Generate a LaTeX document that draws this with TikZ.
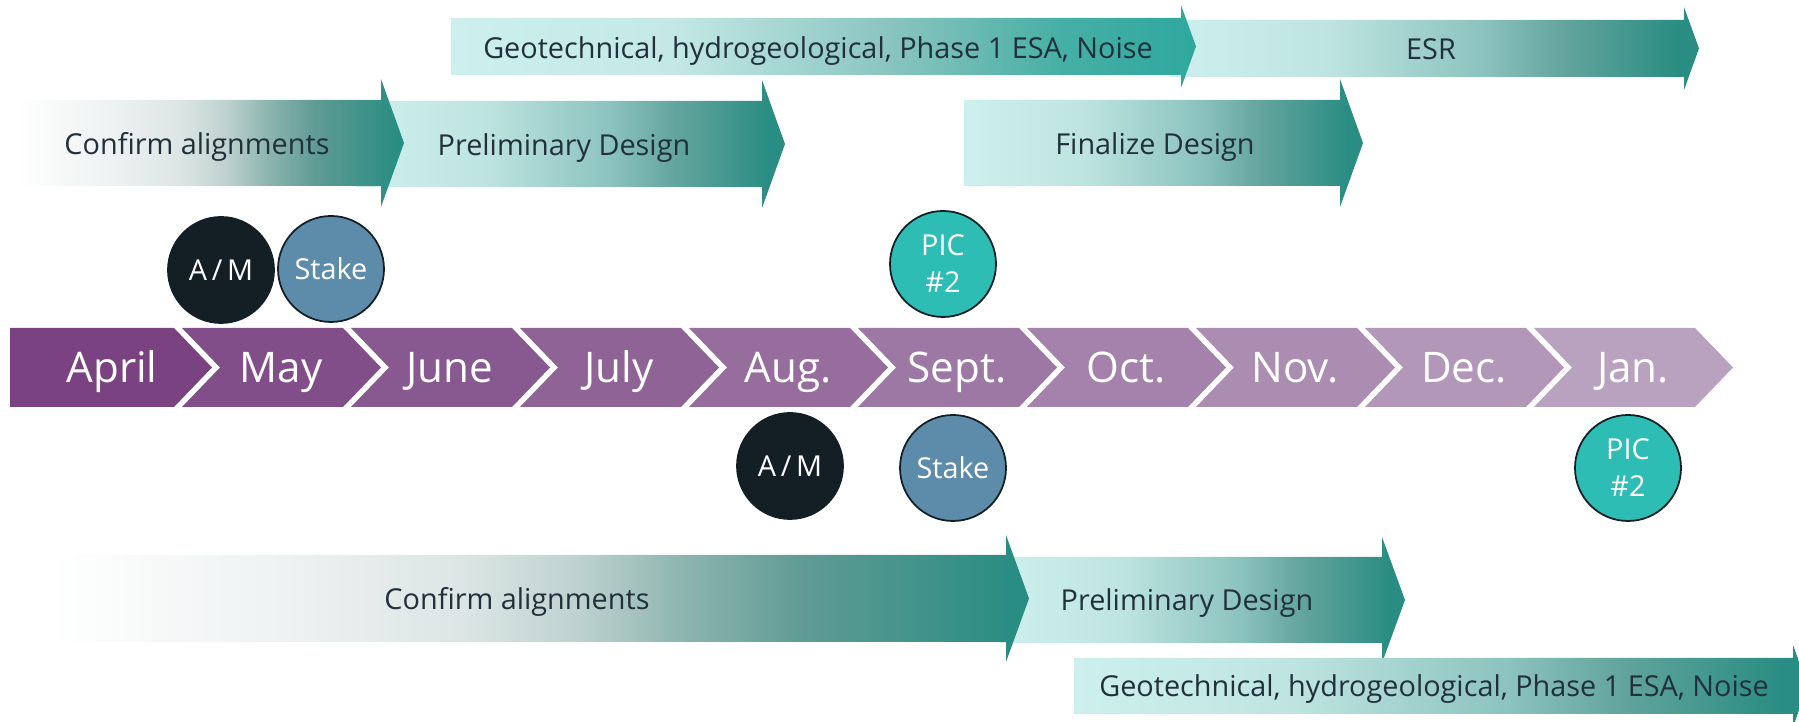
\documentclass[tikz,border=0pt]{standalone}
\usepackage{fontspec}
\setmainfont{Open Sans}
\usepackage{xcolor}
\usepackage{tikz}
\usetikzlibrary{calc}

\definecolor{tealdark}{HTML}{2A8D83}
\definecolor{tealbright}{HTML}{2EA89E}
\definecolor{tealpale}{HTML}{CDF0EE}
\definecolor{inktext}{HTML}{22303B}
\definecolor{amfill}{HTML}{141F25}
\definecolor{stakefill}{HTML}{5D8CAB}
\definecolor{picfill}{HTML}{2EBDB4}
\definecolor{monthdark}{HTML}{7A4281}
\definecolor{monthlight}{HTML}{B9A2C0}

% colour ramps for the phase arrows
\pgfdeclarehorizontalshading{confirmfade}{100bp}{%
  color(0bp)=(white); color(25bp)=(white);
  rgb(37bp)=(0.933,0.949,0.949); rgb(46bp)=(0.863,0.902,0.894);
  rgb(52bp)=(0.745,0.824,0.812); rgb(57.5bp)=(0.549,0.706,0.686);
  rgb(63.5bp)=(0.373,0.608,0.580); color(74bp)=(tealdark); color(100bp)=(tealdark)}
\pgfdeclarehorizontalshading{phasefade}{100bp}{%
  color(0bp)=(tealpale); color(25bp)=(tealpale);
  rgb(40bp)=(0.745,0.894,0.882); rgb(54.5bp)=(0.549,0.765,0.745);
  rgb(62bp)=(0.392,0.647,0.620); color(73bp)=(tealdark); color(100bp)=(tealdark)}
\pgfdeclarehorizontalshading{geofade}{100bp}{%
  color(0bp)=(tealpale); color(25bp)=(tealpale);
  rgb(40bp)=(0.765,0.910,0.898); rgb(55bp)=(0.529,0.765,0.745);
  rgb(66bp)=(0.275,0.686,0.647); color(75bp)=(tealbright); color(100bp)=(tealbright)}

\tikzset{
  phasetext/.style={anchor=base, text=inktext, font=\fontsize{8.2}{10}\selectfont},
  monthtext/.style={anchor=base, text=white, font=\fontsize{12}{14}\selectfont},
  milestone/.style={circle, draw=amfill, line width=0.5pt, minimum size=10.6mm,
    inner sep=0pt, text=white, align=center, font=\fontsize{8.2}{10.5}\selectfont},
}

% [shading] {x left}{x head}{y top}{y bottom}{overhang}{tip}
\newcommand{\phasearrow}[7][]{%
  \shade[#1] (#2,#4) -- (#3,#4) -- (#3,#4-#6) -- (#3+#7,#4/2+#5/2)
    -- (#3,#5+#6) -- (#3,#5) -- (#2,#5) -- cycle;}

\begin{document}
\begin{tikzpicture}[x=0.1mm, y=-0.1mm]
    \path[use as bounding box] (0,0) rectangle (1799,722);
    \clip (0,0) rectangle (1799,722);

    % top rows
    \phasearrow[shading=phasefade]{1170}{1684}{20}{77}{13}{15}
    \phasearrow[shading=geofade]{451}{1181}{18}{75}{13}{15}
    \phasearrow[shading=phasefade]{356}{762}{101}{187}{21}{23}
    \phasearrow[shading=confirmfade]{17}{381}{100}{186}{21}{23}
    \phasearrow[shading=phasefade]{964}{1340}{100}{186}{21}{23}

    \node[phasetext] (geoTop) at (818,59) {Geotechnical, hydrogeological, Phase 1 ESA, Noise};
    \node[phasetext] (esr) at (1431,60) {ESR};
    \node[phasetext] (confirmTop) at (197,155) {Confirm alignments};
    \node[phasetext] (prelimTop) at (564,156) {Preliminary Design};
    \node[phasetext] (finalize) at (1155,155) {Finalize Design};

    % month chevrons
    \foreach \m [count=\i from 0] in {April,May,June,July,Aug.,Sept.,Oct.,Nov.,Dec.,Jan.} {
        \pgfmathtruncatemacro{\mix}{100-100*\i/9}
        \ifnum\i=0
            \fill[monthdark] (10,328) -- (174,328) -- (212,367.5) -- (174,407) -- (10,407) -- cycle;
        \else
            \fill[monthdark!\mix!monthlight] (13+169*\i,328) -- (174+169*\i,328)
                -- (212+169*\i,367.5) -- (174+169*\i,407) -- (13+169*\i,407)
                -- (51+169*\i,367.5) -- cycle;
        \fi
        \node[monthtext] (month\i) at (112+169*\i,383) {\m};
    }

    % milestones
    \node[milestone, fill=amfill] (amTop) at (221,270) {A\,/\,M};
    \node[milestone, fill=stakefill] (stakeTop) at (331,269) {Stake};
    \node[milestone, fill=picfill] (picTop) at (943,264) {PIC\\\#2};
    \node[milestone, fill=amfill] (amBot) at (790,466) {A\,/\,M};
    \node[milestone, fill=stakefill] (stakeBot) at (953,468) {Stake};
    \node[milestone, fill=picfill] (picBot) at (1628,468) {PIC\\\#2};

    % bottom rows
    \phasearrow[shading=phasefade]{1000}{1382}{557}{643}{20}{23}
    \phasearrow[shading=confirmfade]{49}{1006}{555}{642}{20}{23}
    \phasearrow[shading=phasefade]{1074}{1793}{658}{714}{13}{15}

    \node[phasetext] (confirmBot) at (517,610) {Confirm alignments};
    \node[phasetext] (prelimBot) at (1187,611) {Preliminary Design};
    \node[phasetext] (geoBot) at (1434,697) {Geotechnical, hydrogeological, Phase 1 ESA, Noise};
\end{tikzpicture}
\end{document}
